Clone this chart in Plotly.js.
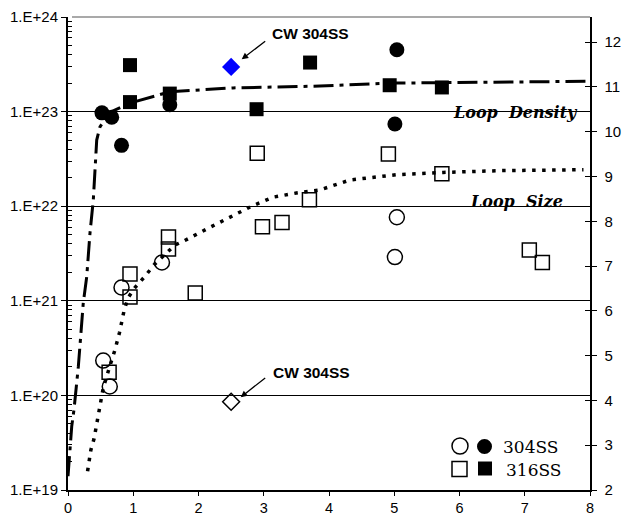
<!DOCTYPE html>
<html>
<head>
<meta charset="utf-8">
<script src="https://cdn.plot.ly/plotly-3.0.1.min.js"></script>
<style>html,body{margin:0;padding:0;background:#fff;}#chart{width:622px;height:519px;}</style>
</head>
<body>
<div id="chart"></div>
<script>
// ---- data (x = fluence-like axis 0..8) ----
// Loop density (left log axis)
var x304Density = [0.52, 0.67, 0.82, 1.56, 5.04, 5.01];
var y304Density = [9.7e22, 8.7e22, 4.4e22, 1.18e23, 4.5e23, 7.4e22];
var x316Density = [0.95, 0.95, 1.56, 2.89, 3.71, 4.93, 5.73];
var y316Density = [3.1e23, 1.26e23, 1.55e23, 1.06e23, 3.3e23, 1.9e23, 1.8e23];
// Loop size (right linear axis)
var x304Size = [0.54, 0.64, 0.82, 1.44, 5.04, 5.01];
var y304Size = [4.89, 4.31, 6.52, 7.08, 8.09, 7.20];
var x316Size = [0.63, 0.95, 0.95, 1.54, 1.54, 1.95, 2.90, 2.98, 3.28, 3.70, 4.91, 5.73, 7.07, 7.27];
var y316Size = [4.63, 6.82, 6.31, 7.65, 7.38, 6.40, 9.52, 7.88, 7.97, 8.48, 9.50, 9.06, 7.36, 7.08];
// CW 304SS
var xCW = [2.5];
var yCWDensity = [2.97e23];
var yCWSize = [3.97];
// trend curves
var xDensityCurve = [0, 0.057, 0.092, 0.158, 0.234, 0.287, 0.337, 0.388, 0.44, 0.49, 0.64, 0.95, 1.56, 2.53, 3.86, 4.93, 8.0];
var yDensityCurve = [1.4e19, 4.7e19, 7.1e19, 2.0e20, 9.5e20, 1.8e21, 5.2e21, 1.17e22, 5.0e22, 6.9e22, 9.8e22, 1.23e23, 1.62e23, 1.78e23, 1.86e23, 2.0e23, 2.09e23];
var xSizeCurve = [0.30, 0.35, 0.40, 0.47, 0.54, 0.64, 0.72, 0.79, 0.86, 0.92, 1.02, 1.18, 1.32, 1.64, 1.79, 2.13, 2.48, 2.82, 3.15, 3.50, 3.86, 4.32, 5.04, 5.75, 6.62, 7.90];
var ySizeCurve = [2.42, 2.89, 3.15, 3.71, 4.28, 4.76, 5.13, 5.52, 6.01, 6.29, 6.51, 6.77, 7.03, 7.47, 7.57, 7.83, 8.09, 8.34, 8.54, 8.63, 8.70, 8.92, 9.04, 9.09, 9.13, 9.15];
// axis ticks
var xTicks = [0, 1, 2, 3, 4, 5, 6, 7, 8];
var yLogTicks = [1e19, 1e20, 1e21, 1e22, 1e23, 1e24];
var yLogTickText = ['1.E+19', '1.E+20', '1.E+21', '1.E+22', '1.E+23', '1.E+24'];
var yGridVals = [1e20, 1e21, 1e22, 1e23];
var legendLabels = ['304SS', '316SS'];

// ---- layout helpers (pixel -> paper) ----
var PL = 68, PR = 590, PT = 17, PB = 490;
function px(v) { return (v - PL) / (PR - PL); }
function py(v) { return (PB - v) / (PB - PT); }

var minorVals = [];
for (var e = 19; e < 24; e++) { for (var m = 2; m <= 9; m++) { minorVals.push(m * Math.pow(10, e)); } }

var black = '#000000';
var traces = [
  {x: xDensityCurve, y: yDensityCurve, xaxis: 'x', yaxis: 'y', mode: 'lines',
   line: {color: black, width: 3, dash: '20px,6px,4px,6px'}, hoverinfo: 'skip'},
  {x: x304Density, y: y304Density, xaxis: 'x', yaxis: 'y', mode: 'markers',
   marker: {symbol: 'circle', size: 15, color: black}},
  {x: x316Density, y: y316Density, xaxis: 'x', yaxis: 'y', mode: 'markers',
   marker: {symbol: 'square', size: 14, color: black}},
  {x: xCW, y: yCWDensity, xaxis: 'x', yaxis: 'y', mode: 'markers',
   marker: {symbol: 'diamond', size: 14, color: '#0000ff'}},
  {x: xSizeCurve, y: ySizeCurve, xaxis: 'x', yaxis: 'y2', mode: 'lines',
   line: {color: black, width: 3.5, dash: '3.5px,6.5px'}, hoverinfo: 'skip'},
  {x: x304Size, y: y304Size, xaxis: 'x', yaxis: 'y2', mode: 'markers',
   marker: {symbol: 'circle-open', size: 15, color: black, line: {width: 1.5, color: black}}},
  {x: x316Size, y: y316Size, xaxis: 'x', yaxis: 'y2', mode: 'markers',
   marker: {symbol: 'square-open', size: 14, color: black, line: {width: 1.5, color: black}}},
  {x: xCW, y: yCWSize, xaxis: 'x', yaxis: 'y2', mode: 'markers',
   marker: {symbol: 'diamond-open', size: 13, color: black, line: {width: 1.5, color: black}}},
  {x: [], y: [], xaxis: 'x', yaxis: 'y3', mode: 'markers'},
  {x: [], y: [], xaxis: 'x', yaxis: 'y4', mode: 'markers'}
];

var tickFont = {family: 'Arial, "Liberation Sans", sans-serif', size: 15, color: black};
var layout = {
  width: 622, height: 519,
  margin: {l: PL, r: 622 - PR, t: PT, b: 519 - PB, pad: 0},
  paper_bgcolor: '#ffffff', plot_bgcolor: '#ffffff',
  showlegend: false,
  xaxis: {range: [0, 8], tickvals: xTicks, ticks: 'outside', ticklen: 4, tickcolor: black,
          showline: true, linecolor: black, linewidth: 2, mirror: false, ticklabelstandoff: 0,
          showgrid: false, zeroline: false,
          tickfont: {family: tickFont.family, size: 14.5, color: black}},
  yaxis: {type: 'log', range: [19, 24], tickvals: yLogTicks, ticktext: yLogTickText,
          ticks: 'outside', ticklen: 5, tickcolor: black,
          minor: {tickvals: minorVals, ticks: 'inside', ticklen: 4, tickcolor: black, showgrid: false},
          showgrid: false,
          showline: true, linecolor: black, linewidth: 2, zeroline: false,
          tickfont: {family: tickFont.family, size: 15, color: black}},
  yaxis2: {overlaying: 'y', side: 'right', range: [2, 12.56], tick0: 2, dtick: 1,
           ticks: 'outside', ticklen: 5, tickcolor: black, ticklabelstandoff: 5,
           showline: true, linecolor: black, linewidth: 1.5, showgrid: false, zeroline: false,
           tickfont: tickFont},
  yaxis3: {overlaying: 'y', side: 'right', range: [2, 12.56], tick0: 2, dtick: 1,
           ticks: 'inside', ticklen: 5, tickcolor: black, showticklabels: false,
           showline: false, showgrid: false, zeroline: false},
  yaxis4: {overlaying: 'y', side: 'left', type: 'log', range: [19, 24], tickvals: yGridVals,
           ticks: 'inside', ticklen: 5, tickcolor: black, showticklabels: false,
           showgrid: true, gridcolor: black, gridwidth: 1.3,
           showline: false, zeroline: false},
  annotations: [
    {xref: 'paper', yref: 'paper', x: px(580), y: py(112.5), xanchor: 'right', yanchor: 'middle',
     text: 'Loop\u00a0\u00a0Density', showarrow: false,
     font: {family: '"DejaVu Serif", serif', size: 16, weight: 'bold', style: 'italic', color: black}},
    {xref: 'paper', yref: 'paper', x: px(565), y: py(201.5), xanchor: 'right', yanchor: 'middle',
     text: 'Loop\u00a0\u00a0Size', showarrow: false,
     font: {family: '"DejaVu Serif", serif', size: 16, weight: 'bold', style: 'italic', color: black}},
    {xref: 'paper', yref: 'paper', x: px(270), y: py(33), xanchor: 'left', yanchor: 'middle',
     text: 'CW 304SS', showarrow: false,
     font: {family: 'Arial, "Liberation Sans", sans-serif', size: 15.5, weight: 'bold', color: black}},
    {xref: 'paper', yref: 'paper', x: px(241.7), y: py(59.3), ax: 25, ay: -19.3, text: '',
     showarrow: true, arrowhead: 2, arrowsize: 1, arrowwidth: 1.3, arrowcolor: black, standoff: 0},
    {xref: 'paper', yref: 'paper', x: px(271), y: py(372), xanchor: 'left', yanchor: 'middle',
     text: 'CW 304SS', showarrow: false,
     font: {family: 'Arial, "Liberation Sans", sans-serif', size: 15.5, weight: 'bold', color: black}},
    {xref: 'paper', yref: 'paper', x: px(240.7), y: py(397.3), ax: 26, ay: -20.6, text: '',
     showarrow: true, arrowhead: 2, arrowsize: 1, arrowwidth: 1.3, arrowcolor: black, standoff: 0},
    {xref: 'paper', yref: 'paper', x: px(501), y: py(447), xanchor: 'left', yanchor: 'middle',
     text: legendLabels[0], showarrow: false,
     font: {family: '"DejaVu Serif", serif', size: 17, color: black}},
    {xref: 'paper', yref: 'paper', x: px(504), y: py(470), xanchor: 'left', yanchor: 'middle',
     text: legendLabels[1], showarrow: false,
     font: {family: '"DejaVu Serif", serif', size: 17, color: black}}
  ],
  shapes: [
    {type: 'line', xref: 'paper', yref: 'paper', x0: px(72), x1: 1, y0: 1, y1: 1,
     line: {color: '#8c8c8c', width: 1.5}},
    {type: 'circle', xref: 'paper', yref: 'paper', x0: px(452), x1: px(468), y0: py(454), y1: py(438),
     line: {color: black, width: 1.5}, fillcolor: 'rgba(0,0,0,0)'},
    {type: 'circle', xref: 'paper', yref: 'paper', x0: px(477), x1: px(492), y0: py(454), y1: py(439),
     line: {color: black, width: 0}, fillcolor: black},
    {type: 'rect', xref: 'paper', yref: 'paper', x0: px(452), x1: px(467), y0: py(476.5), y1: py(461.5),
     line: {color: black, width: 1.5}, fillcolor: 'rgba(0,0,0,0)'},
    {type: 'rect', xref: 'paper', yref: 'paper', x0: px(478), x1: px(492), y0: py(475.5), y1: py(461.5),
     line: {color: black, width: 0}, fillcolor: black}
  ]
};

Plotly.newPlot('chart', traces, layout, {staticPlot: true, displayModeBar: false});
</script>
</body>
</html>
